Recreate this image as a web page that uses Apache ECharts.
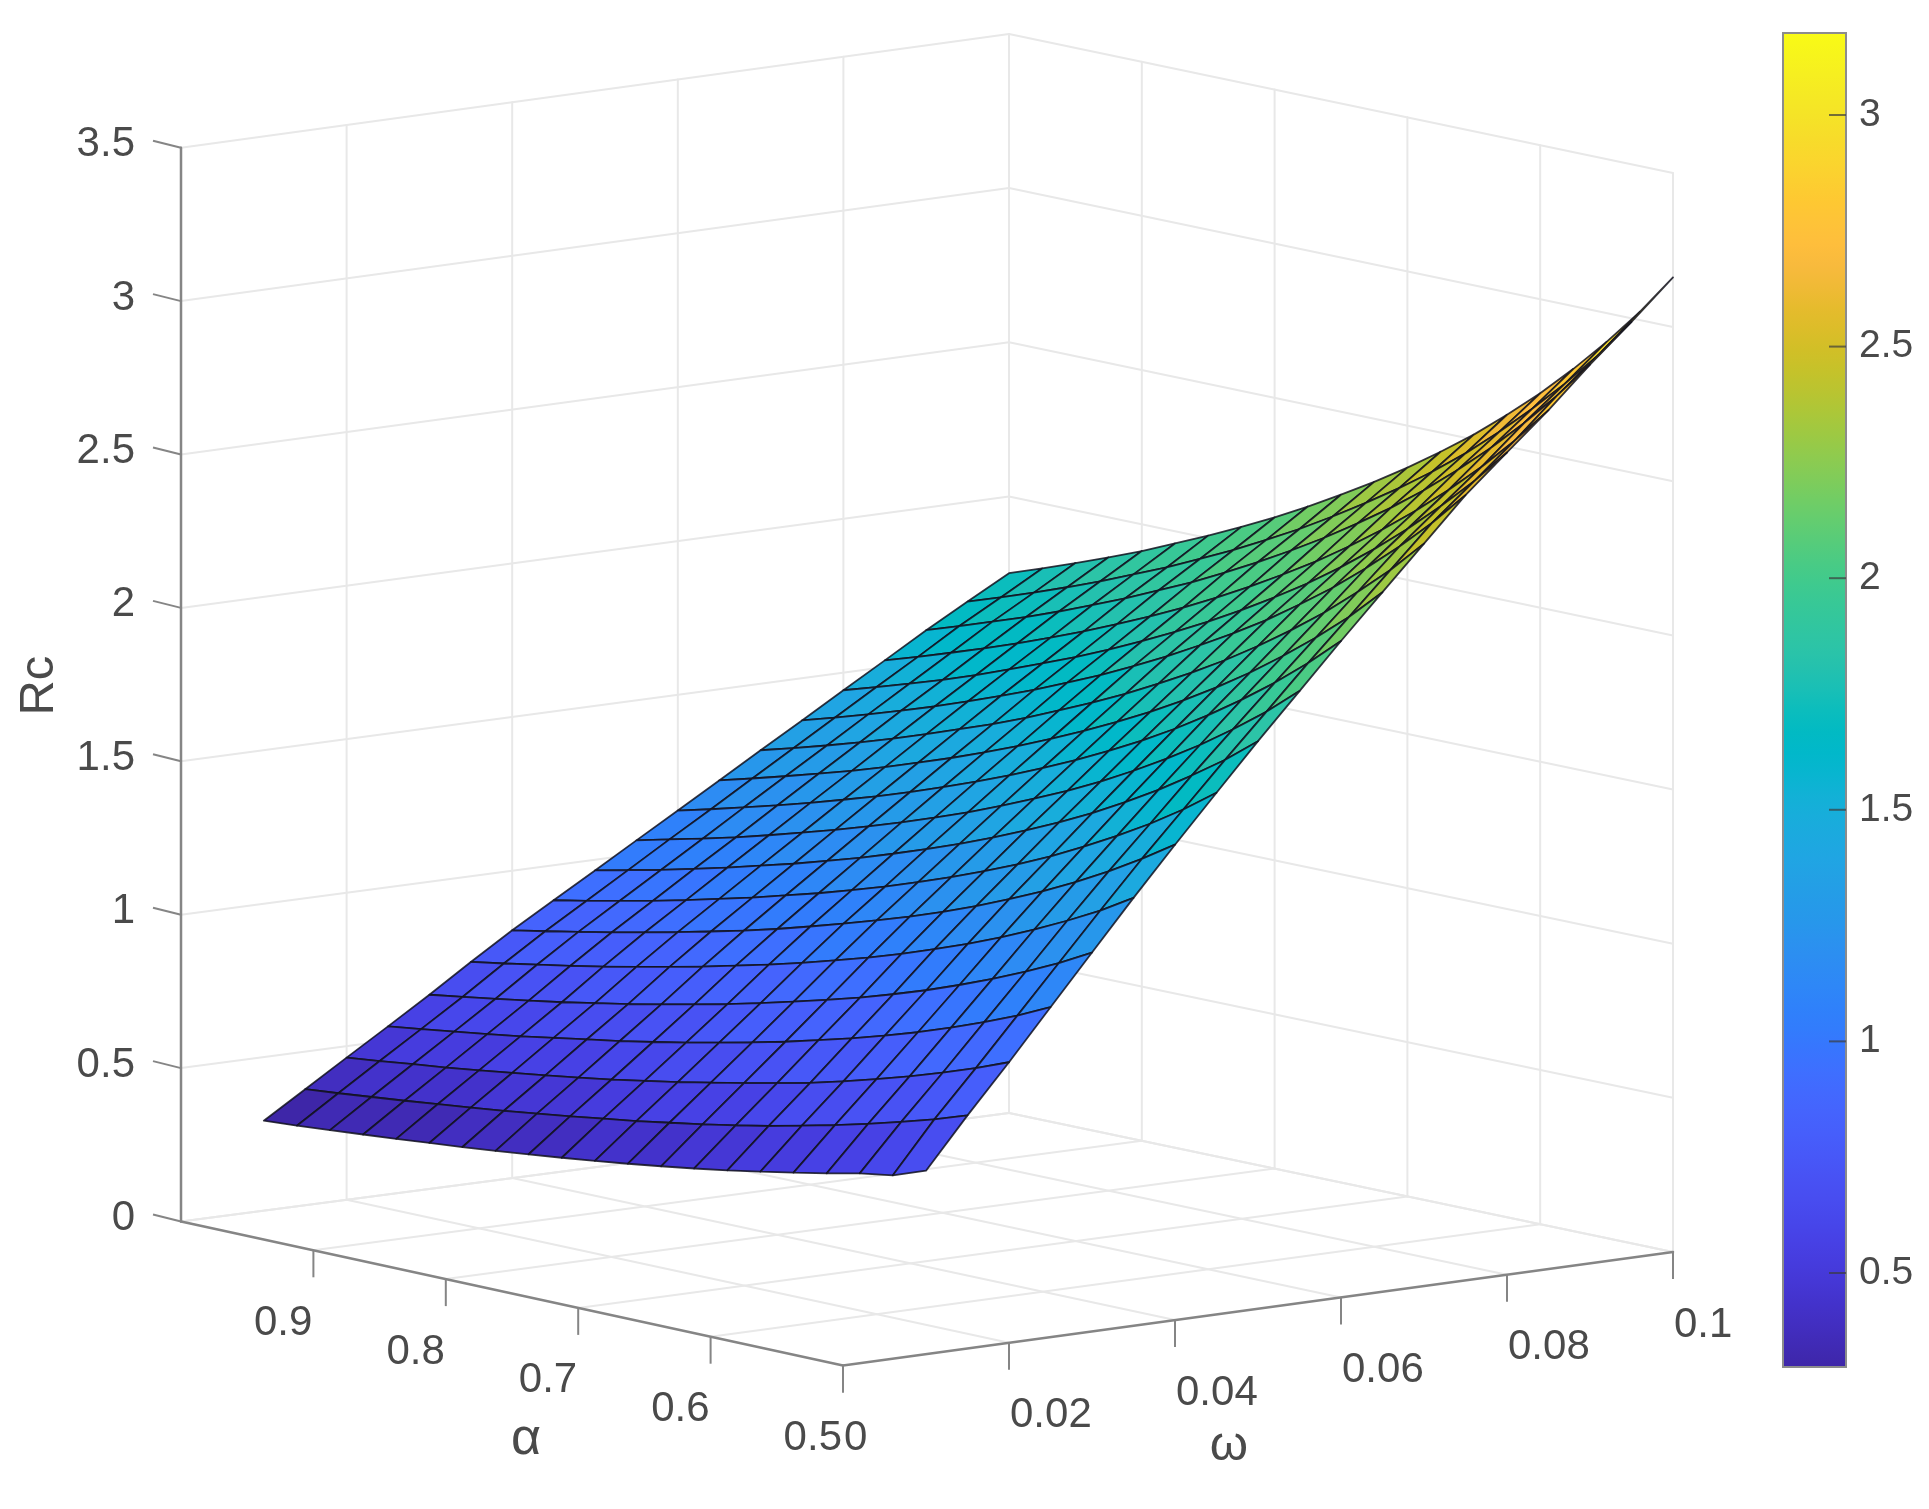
<!DOCTYPE html>
<html>
<head>
<meta charset="utf-8">
<style>html,body{margin:0;padding:0;background:#fff}#chart{width:1929px;height:1509px;filter:blur(0.7px)}</style>
<script src="https://cdn.jsdelivr.net/npm/echarts@6/dist/echarts.min.js"></script>
</head>
<body>
<div id="chart"></div>
<script>
// ---------- data ----------
const alphaValues = [0.5,0.525,0.55,0.575,0.6,0.625,0.65,0.675,0.7,0.725,0.75,0.775,0.8,0.825,0.85,0.875,0.9,0.925,0.95,0.975,1];
const omegaValues = [0.01,0.015,0.02,0.025,0.03,0.035,0.04,0.045,0.05,0.055,0.06,0.065,0.07,0.075,0.08,0.085,0.09,0.095,0.1];
// one row per omega, columns follow alphaValues
const rcValues = [
[0.595,0.557,0.54,0.517,0.496,0.476,0.457,0.44,0.424,0.409,0.395,0.382,0.37,0.358,0.347,0.337,0.327,0.318,0.309,0.3,0.293],
[0.756,0.72,0.689,0.659,0.632,0.607,0.583,0.562,0.542,0.524,0.506,0.491,0.475,0.461,0.447,0.434,0.422,0.41,0.399,0.388,0.378],
[0.91,0.868,0.83,0.795,0.763,0.733,0.705,0.681,0.658,0.636,0.615,0.596,0.577,0.56,0.544,0.529,0.514,0.5,0.488,0.475,0.463],
[1.07,1.02,0.976,0.935,0.897,0.863,0.831,0.802,0.774,0.749,0.725,0.702,0.681,0.661,0.643,0.625,0.607,0.591,0.576,0.561,0.547],
[1.229,1.172,1.121,1.075,1.032,0.992,0.956,0.922,0.892,0.863,0.835,0.809,0.785,0.762,0.74,0.72,0.7,0.682,0.665,0.648,0.632],
[1.388,1.324,1.268,1.216,1.168,1.124,1.084,1.046,1.011,0.979,0.948,0.919,0.893,0.867,0.843,0.82,0.798,0.777,0.758,0.739,0.721],
[1.542,1.473,1.41,1.352,1.299,1.251,1.206,1.164,1.126,1.091,1.057,1.025,0.994,0.966,0.94,0.915,0.891,0.868,0.847,0.826,0.806],
[1.692,1.615,1.546,1.484,1.426,1.372,1.323,1.278,1.236,1.197,1.159,1.125,1.092,1.062,1.032,1.005,0.978,0.953,0.93,0.907,0.886],
[1.841,1.757,1.684,1.615,1.552,1.494,1.441,1.392,1.346,1.303,1.263,1.225,1.189,1.156,1.124,1.095,1.066,1.039,1.013,0.989,0.965],
[1.985,1.895,1.816,1.742,1.675,1.613,1.555,1.502,1.454,1.408,1.364,1.324,1.286,1.25,1.216,1.184,1.153,1.123,1.096,1.071,1.045],
[2.129,2.034,1.948,1.87,1.798,1.731,1.67,1.614,1.561,1.512,1.466,1.423,1.382,1.343,1.307,1.273,1.24,1.209,1.18,1.151,1.124],
[2.269,2.167,2.077,1.994,1.917,1.847,1.782,1.722,1.667,1.615,1.566,1.52,1.477,1.436,1.398,1.361,1.326,1.294,1.263,1.233,1.204],
[2.408,2.301,2.206,2.117,2.037,1.963,1.894,1.831,1.773,1.717,1.666,1.618,1.571,1.528,1.489,1.45,1.413,1.378,1.345,1.314,1.284],
[2.547,2.435,2.334,2.242,2.156,2.079,2.006,1.94,1.879,1.82,1.766,1.714,1.667,1.621,1.579,1.538,1.499,1.463,1.428,1.395,1.363],
[2.667,2.55,2.447,2.351,2.263,2.182,2.107,2.039,1.975,1.915,1.859,1.806,1.756,1.709,1.666,1.624,1.583,1.545,1.51,1.476,1.443],
[2.786,2.666,2.558,2.46,2.369,2.286,2.209,2.137,2.072,2.01,1.952,1.897,1.846,1.798,1.752,1.709,1.668,1.629,1.592,1.556,1.522],
[2.915,2.791,2.679,2.576,2.482,2.395,2.315,2.242,2.173,2.109,2.049,1.992,1.938,1.889,1.841,1.796,1.753,1.712,1.675,1.638,1.602],
[3.035,2.905,2.79,2.685,2.587,2.496,2.414,2.338,2.268,2.201,2.138,2.08,2.024,1.973,1.923,1.878,1.833,1.791,1.751,1.713,1.677],
[3.161,3.027,2.907,2.797,2.695,2.603,2.516,2.438,2.364,2.295,2.231,2.17,2.112,2.059,2.008,1.96,1.913,1.87,1.829,1.789,1.751]
];
const rcTicks = [0,0.5,1,1.5,2,2.5,3,3.5];
const rcTickLabels = ['0','0.5','1','1.5','2','2.5','3','3.5'];
const alphaTicks = [0.5,0.6,0.7,0.8,0.9];
const alphaTickLabels = ['0.5','0.6','0.7','0.8','0.9'];
const omegaTicks = [0,0.02,0.04,0.06,0.08,0.1];
const omegaTickLabels = ['0','0.02','0.04','0.06','0.08','0.1'];
const colorbarTicks = [0.5,1,1.5,2,2.5,3];
const colorRange = [0.297,3.177];
const parula = [[.2422,.1504,.6603],[.2504,.165,.7076],[.2578,.1818,.7511],[.2647,.1978,.7952],[.2706,.2147,.8364],[.2751,.2342,.871],[.2783,.2559,.8991],[.2803,.2782,.9221],[.2813,.3006,.9414],[.281,.3228,.9579],[.2795,.3447,.9717],[.276,.3667,.9829],[.2699,.3892,.9906],[.2602,.4123,.9952],[.244,.4358,.9988],[.2206,.4603,.9973],[.1963,.4847,.9892],[.1834,.5074,.9798],[.1786,.5289,.9682],[.1764,.5499,.952],[.1687,.5703,.9359],[.154,.5902,.9218],[.146,.6091,.9079],[.138,.6276,.8973],[.1248,.6459,.8883],[.1113,.6635,.8763],[.0952,.6798,.8598],[.0689,.6948,.8394],[.0297,.7082,.8163],[.0036,.7203,.7917],[.0067,.7312,.766],[.0433,.7411,.7394],[.0964,.75,.712],[.1408,.7584,.6842],[.1717,.767,.6554],[.1938,.7758,.6251],[.2161,.7843,.5923],[.247,.7918,.5567],[.2906,.7973,.5188],[.3406,.8008,.4789],[.3909,.8029,.4354],[.4456,.8024,.3909],[.5044,.7993,.348],[.5616,.7942,.3045],[.6174,.7876,.2612],[.672,.7793,.2227],[.7242,.7698,.191],[.7738,.7598,.1646],[.8203,.7498,.1535],[.8634,.7406,.1596],[.9035,.733,.1774],[.9393,.7288,.21],[.9728,.7298,.2394],[.9956,.7434,.2371],[.997,.7659,.2199],[.9952,.7861,.1967],[.9892,.8136,.1885],[.9786,.8386,.1766],[.9676,.8639,.1643],[.961,.889,.1537],[.9597,.9135,.1423],[.9628,.9373,.1265],[.9691,.9606,.1064],[.9769,.9839,.0805]];

// ---------- view of the 3D box on the page plane ----------
const view = {nearCorner:[843,1365.5], alphaEnd:[181,1221.5], omegaEnd:[1673,1252], farCorner:[1009,1113], unitHeight:308.3, unitHeightAlphaEnd:306.8};
const alphaRange = [0.5,1], omegaRange = [0,0.1], rcRange = [0,3.5];
function project(a, w, z) {
  const u = (a - alphaRange[0]) / (alphaRange[1] - alphaRange[0]);
  const v = (w - omegaRange[0]) / (omegaRange[1] - omegaRange[0]);
  const p = [0,1].map(k => view.nearCorner[k]
    + u * (view.alphaEnd[k] - view.nearCorner[k])
    + v * (view.omegaEnd[k] - view.nearCorner[k])
    + u * v * (view.farCorner[k] - view.alphaEnd[k] - view.omegaEnd[k] + view.nearCorner[k]));
  p[1] -= z * (view.unitHeight + u * (1 - v) * (view.unitHeightAlphaEnd - view.unitHeight));
  return p;
}
function rgb(c) { return 'rgb(' + c.map(x => Math.round(x * 255)).join(',') + ')'; }
function colorOf(z) {
  const t = Math.min(1, Math.max(0, (z - colorRange[0]) / (colorRange[1] - colorRange[0])));
  return rgb(parula[Math.min(parula.length - 1, Math.floor(t * parula.length))]);
}
const textColor = '#4a4a4a', axisColor = '#858585', gridColor = '#e8e8e8';
const fontFamily = '"Liberation Sans", Arimo, Helvetica, Arial, sans-serif';
const labelFont = '42px ' + fontFamily;

// ---------- line series ----------
function lineSeries(name, segs, color, width, z) {
  return {
    type:'custom', name, xAxisIndex:0, yAxisIndex:0, z, silent:true, animation:false, clip:false,
    data:segs,
    renderItem(params, api) {
      const a = api.coord(project(api.value(0), api.value(1), api.value(2)));
      const b = api.coord(project(api.value(3), api.value(4), api.value(5)));
      return {type:'line', shape:{x1:a[0],y1:a[1],x2:b[0],y2:b[1]}, style:{stroke:color, lineWidth:width, lineCap:'round'}};
    }
  };
}
const A0 = alphaRange[0], A1 = alphaRange[1], W0 = omegaRange[0], W1 = omegaRange[1], Z0 = rcRange[0], Z1 = rcRange[1];
const gridSegs = [];
rcTicks.forEach(z => { gridSegs.push([A1,W0,z,A1,W1,z],[A1,W1,z,A0,W1,z]); });
omegaTicks.forEach(w => { gridSegs.push([A1,w,Z0,A1,w,Z1]); if (w > W0) gridSegs.push([A0,w,Z0,A1,w,Z0]); });
alphaTicks.concat([A1]).forEach(a => { gridSegs.push([a,W1,Z0,a,W1,Z1]); if (a > A0) gridSegs.push([a,W0,Z0,a,W1,Z0]); });
const axisSegs = [[A1,W0,Z0,A0,W0,Z0],[A0,W0,Z0,A0,W1,Z0],[A1,W0,Z0,A1,W0,Z1]];

// ---------- surface cells, far ones first ----------
const cells = [];
for (let j = omegaValues.length - 2; j >= 0; j--) {
  for (let i = alphaValues.length - 2; i >= 0; i--) {
    cells.push([i, j, (rcValues[j][i] + rcValues[j][i+1] + rcValues[j+1][i] + rcValues[j+1][i+1]) / 4]);
  }
}
const surfaceSeries = {
  type:'custom', name:'Rc', xAxisIndex:0, yAxisIndex:0, z:3, silent:true, animation:false, clip:false, progressive:0,
  data:cells,
  renderItem(params, api) {
    const i = api.value(0), j = api.value(1);
    const pts = [[i,j],[i+1,j],[i+1,j+1],[i,j+1]].map(([p,q]) =>
      api.coord(project(alphaValues[p], omegaValues[q], rcValues[q][p])));
    return {type:'polygon', shape:{points:pts},
      style:{fill:colorOf(api.value(2)), stroke:'rgba(18,18,30,0.85)', lineWidth:1.8, lineJoin:'round'}};
  }
};

// ---------- ticks and their labels ----------
function tickSeries(name, items, tickOff, labelOff, align) {
  return {
    type:'custom', name, xAxisIndex:0, yAxisIndex:0, z:4, silent:true, animation:false, clip:false,
    data:items.map(it => it.slice(0,3)),
    renderItem(params, api) {
      const p = api.coord(project(api.value(0), api.value(1), api.value(2)));
      const text = items[params.dataIndex][3];
      return {type:'group', children:[
        {type:'line', shape:{x1:p[0],y1:p[1],x2:p[0]+tickOff[0],y2:p[1]+tickOff[1]}, style:{stroke:axisColor, lineWidth:2}},
        {type:'text', style:{text, x:p[0]+labelOff[0], y:p[1]+labelOff[1], font:labelFont, fill:textColor, align, verticalAlign:'middle'}}
      ]};
    }
  };
}
const rcItems = rcTicks.map((z,k) => [A1,W0,z,rcTickLabels[k]]);
const alphaItems = alphaTicks.map((a,k) => [a,W0,Z0,alphaTickLabels[k]]);
const omegaItems = omegaTicks.map((w,k) => [A0,w,Z0,omegaTickLabels[k]]);

// ---------- axis titles ----------
const axisTitles = [
  {text:'α', at:[0.75,0,0], off:[14,146], rot:0, size:52},
  {text:'ω', at:[0.5,0.05,0], off:[-29,138], rot:0, size:49},
  {text:'Rc', at:[1,0,1.75], off:[-142,1], rot:Math.PI/2, size:49}
];
const titleSeries = {
  type:'custom', name:'titles', xAxisIndex:0, yAxisIndex:0, z:4, silent:true, animation:false, clip:false,
  data:axisTitles.map(t => t.at),
  renderItem(params, api) {
    const t = axisTitles[params.dataIndex];
    const p = api.coord(project(api.value(0), api.value(1), api.value(2)));
    return {type:'text', x:p[0]+t.off[0], y:p[1]+t.off[1], rotation:t.rot,
      style:{text:t.text, x:0, y:0, font:t.size + 'px ' + fontFamily, fill:textColor, align:'center', verticalAlign:'middle'}};
  }
};

// ---------- colorbar ----------
const colorbarSeries = {
  type:'custom', name:'colorbar', xAxisIndex:1, yAxisIndex:1, z:2, silent:true, animation:false, clip:false,
  data:[[0,colorRange[0],1,colorRange[1]]],
  renderItem(params, api) {
    const a = api.coord([api.value(0), api.value(1)]);
    const b = api.coord([api.value(2), api.value(3)]);
    const stops = parula.map((c,k) => ({offset:k/(parula.length-1), color:rgb(c)}));
    const children = [{type:'rect', shape:{x:a[0], y:b[1], width:b[0]-a[0], height:a[1]-b[1]},
      style:{fill:new echarts.graphic.LinearGradient(0,1,0,0,stops), stroke:'#8c8c8c', lineWidth:2}}];
    colorbarTicks.forEach(t => {
      const p = api.coord([1, t]);
      children.push({type:'line', shape:{x1:p[0]-17,y1:p[1],x2:p[0],y2:p[1]}, style:{stroke:'rgba(60,60,60,0.7)', lineWidth:2}});
    });
    return {type:'group', children};
  }
};

const chart = echarts.init(document.getElementById('chart'), null, {renderer:'canvas'});
chart.setOption({
  backgroundColor:'#fff',
  animation:false,
  grid:[
    {left:0, top:0, width:1929, height:1509},
    {left:1783, top:33, width:63, height:1334}
  ],
  xAxis:[
    {type:'value', gridIndex:0, min:0, max:1929, show:false},
    {type:'value', gridIndex:1, min:0, max:1, show:false}
  ],
  yAxis:[
    {type:'value', gridIndex:0, min:0, max:1509, inverse:true, show:false},
    {type:'value', gridIndex:1, min:colorRange[0], max:colorRange[1], position:'right', z:6,
     axisLine:{show:false}, splitLine:{show:false}, axisTick:{show:false},
     axisLabel:{show:true, customValues:colorbarTicks, margin:13, color:textColor, fontSize:39, fontFamily, padding:[10,0,0,0]}}
  ],
  series:[
    lineSeries('grid', gridSegs, gridColor, 2, 1),
    surfaceSeries,
    lineSeries('axes', axisSegs, axisColor, 2.5, 4),
    tickSeries('rc ticks', rcItems, [-28,-7], [-46,-3], 'right'),
    tickSeries('alpha ticks', alphaItems, [0,27], [-1,73], 'right'),
    tickSeries('omega ticks', omegaItems, [0,27], [1,73], 'left'),
    titleSeries,
    colorbarSeries
  ]
});
</script>
</body>
</html>
